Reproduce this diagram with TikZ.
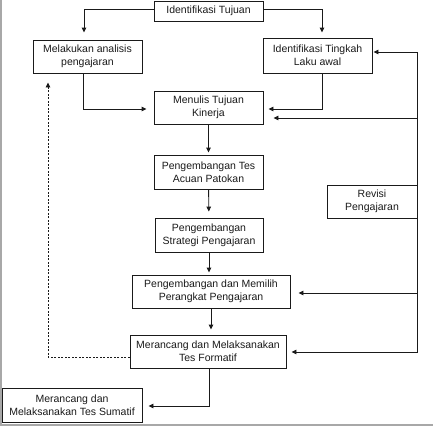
\documentclass[tikz,border=0pt]{standalone}
\usepackage{fontspec}
\setmainfont{Liberation Sans}
\usetikzlibrary{positioning,arrows.meta}
\definecolor{cLine}{HTML}{1A1A1A}
\definecolor{cFrame}{HTML}{A8A8A8}
\tikzset{
  blk/.style={draw=cLine, line width=0.9pt, align=center, inner sep=1pt,
              font=\fontsize{10.5}{13}\selectfont, text=cLine},
  ar/.style={-{Triangle[length=5pt, width=4.5pt]}, line width=0.9pt, cLine,
             shorten >=4pt},
  ln/.style={line width=0.9pt, cLine},
  dsh/.style={ar, dash pattern=on 2pt off 1.5pt},
}

\begin{document}
\begin{tikzpicture}[x=1pt, y=-1pt]
    \useasboundingbox (0,0) rectangle (433,426);
    \draw[cFrame, line width=1.5pt] (0.75,0) -- (0.75,425) -- (433,425);

    % --- boxes ---
    \node[blk, minimum width=109pt, minimum height=20pt] (tuj) at (208.5,11)  {Identifikasi Tujuan};
    \node[blk, minimum width=109pt, minimum height=33pt] (ana) at (87.5,56.5) {Melakukan analisis\\pengajaran};
    \node[blk, minimum width=109pt, minimum height=35pt] (tin) at (317.5,55.5){Identifikasi Tingkah\\Laku awal};
    \node[blk, minimum width=109pt, minimum height=33pt] (kin) at (208.5,107.5){Menulis Tujuan\\Kinerja};
    \node[blk, minimum width=109pt, minimum height=34pt] (tes) at (208.5,172) {Pengembangan Tes\\Acuan Patokan};
    \node[blk, minimum width=90pt,  minimum height=33pt] (rev) at (372,201.5)  {Revisi\\Pengajaran};
    \node[blk, minimum width=108pt, minimum height=34pt] (str) at (209,235)   {Pengembangan\\Strategi Pengajaran};
    \node[blk, minimum width=158pt, minimum height=33pt] (per) at (211,291.5) {Pengembangan dan Memilih\\Perangkat Pengajaran};
    \node[blk, minimum width=156pt, minimum height=33pt] (for) at (208,351.5) {Merancang dan Melaksanakan\\Tes Formatif};
    \node[blk, minimum width=140pt, minimum height=34pt] (sum) at (72,405)    {Merancang dan\\Melaksanakan Tes Sumatif};

    % --- main flow ---
    \draw[ar, shorten >=7pt] ([yshift=1.5pt]tuj.west) -| ([xshift=-3.5pt]ana.north);
    \draw[ar, shorten >=5pt] ([yshift=1.5pt]tuj.east) -| ([xshift=4.5pt]tin.north);
    \draw[ar, shorten >=7pt] ([xshift=-4.5pt]ana.south) |- ([yshift=-1.5pt]kin.west);
    \draw[ar, shorten >=5pt] ([xshift=4.5pt]tin.south) |- ([yshift=-1.5pt]kin.east);
    \draw[ar, shorten >=2pt] (kin) -- (tes);
    \draw[ar, shorten >=6pt] (tes) -- (str);
    \draw[ar, shorten >=2pt] (str.south) -- (str.south |- per.north);
    \draw[ar, shorten >=5pt] (per.south) -- (per.south |- for.north);
    \draw[ar, shorten >=6pt] ([xshift=1pt]for.south) |- ([yshift=-1pt]sum.east);

    % --- revision loop ---
    \draw[ar, shorten >=1pt] (rev.north east) |- ([yshift=3.5pt]tin.east);
    \draw[ar, shorten >=10pt] (rev.north east) |- ([yshift=-10.5pt]kin.east);
    \draw[ar, shorten >=8pt] (rev.south east) |- ([yshift=-1.5pt]per.east);
    \draw[ar, shorten >=5pt] (rev.south east) |- ([yshift=-0.5pt]for.east);
    \draw[dsh, shorten >=9pt] ([yshift=-5.5pt]for.west) -| ([xshift=-39.5pt]ana.south);
\end{tikzpicture}
\end{document}
